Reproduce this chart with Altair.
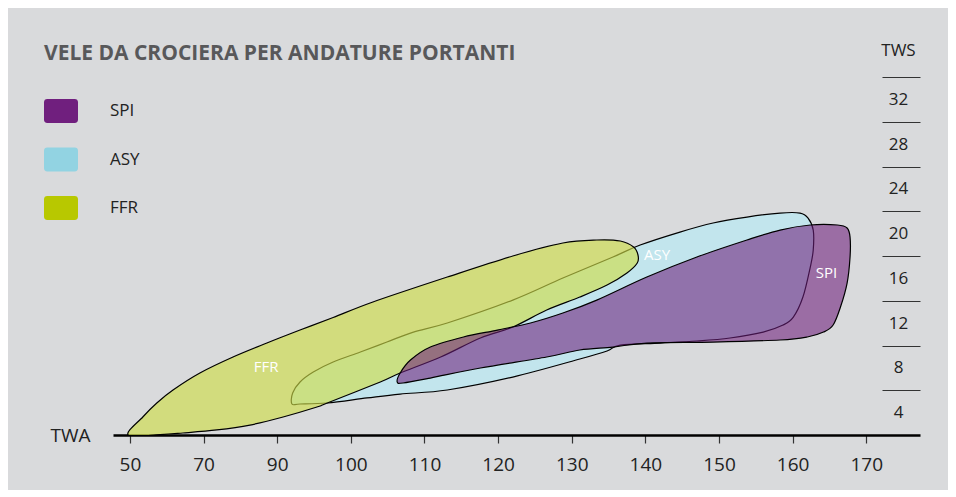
import altair as alt
import pandas as pd

# ---------------- data ----------------
title_text = "VELE DA CROCIERA PER ANDATURE PORTANTI"
sails = ["SPI", "ASY", "FFR"]
swatch_colors = ["#701f7e", "#92d3e2", "#b8c800"]

x_ticks = [50, 70, 90, 100, 110, 120, 130, 140, 150, 160, 170]
tws_lines = [4, 8, 12, 16, 20, 24, 28, 32]
tws_labels = [4, 8, 12, 16, 20, 24, 28, 32]

# outlines (TWA degrees, TWS knots)
asy_twa = [92.0, 92.1, 93.1, 94.9, 97.6, 101.3, 104.9, 108.5, 113.1, 122.0, 128.8, 135.6,
           139.3, 144.7, 149.2, 153.8, 158.3, 161.0, 162.1, 162.8, 162.8, 162.4, 161.4,
           160.1, 158.7, 156.0, 151.5, 147.0, 142.0, 136.6, 134.8, 131.1, 122.0, 113.1,
           106.7, 102.2, 96.8, 93.1]
asy_tws = [2.77, 3.75, 4.74, 5.63, 6.52, 7.42, 8.31, 9.20, 10.01, 12.06, 14.03, 15.91,
           16.98, 18.14, 18.95, 19.48, 19.84, 19.84, 19.39, 18.32, 16.53, 15.01, 12.33,
           10.54, 9.83, 9.20, 8.67, 8.40, 8.22, 8.04, 7.51, 6.79, 5.18, 4.02,
           3.66, 3.31, 2.86, 2.77]

ffr_twa = [49.5, 53.5, 57.3, 61.7, 69.0, 78.0, 87.2, 93.1, 97.6, 103.0, 113.1, 122.0,
           128.8, 133.4, 136.6, 138.4, 139.0, 138.9, 137.5, 134.8, 131.1, 126.6, 122.0,
           117.6, 112.2, 106.7, 104.0, 96.8, 95.4, 90.8, 82.6, 73.6, 64.4, 58.2]
ffr_tws = [0.0, 1.61, 2.86, 4.02, 5.54, 6.97, 8.22, 9.38, 10.5, 11.89, 14.12, 16.0,
           17.16, 17.43, 17.34, 16.80, 16.09, 15.37, 14.48, 13.40, 12.33, 11.17, 9.65,
           8.67, 6.97, 5.54, 4.74, 2.86, 2.50, 1.61, 0.89, 0.45, 0.18, 0.04]

spi_twa = [106.3, 106.7, 108.1, 110.8, 115.3, 119.9, 124.4, 128.8, 133.4, 140.2, 147.0,
           153.8, 158.3, 162.4, 166.1, 167.4, 167.8, 167.8, 167.4, 166.5, 165.5, 164.2,
           162.0, 158.3, 149.2, 140.2, 135.6, 131.1, 126.6, 117.6, 110.8, 107.1]
spi_tws = [4.74, 5.54, 6.70, 7.86, 8.76, 9.38, 10.01, 10.90, 12.06, 14.12, 15.91,
           17.43, 18.32, 18.77, 18.77, 18.50, 17.69, 15.91, 13.58, 11.44, 9.83, 9.20,
           8.76, 8.49, 8.31, 8.22, 7.86, 7.60, 6.97, 5.99, 5.09, 4.65]

label_names = ["FFR", "ASY", "SPI"]
label_twa = [87.0, 141.6, 164.6]
label_tws = [6.1, 16.1, 14.5]

# ---------------- tables ----------------
def shape_df(name, twa, tws):
    return pd.DataFrame({"sail": name, "i": list(range(len(twa))), "twa": twa, "tws": tws})

shapes = pd.concat([shape_df("ASY", asy_twa, asy_tws),
                    shape_df("FFR", ffr_twa, ffr_tws),
                    shape_df("SPI", spi_twa, spi_tws)], ignore_index=True)
labels_df = pd.DataFrame({"label": label_names, "twa": label_twa, "tws": label_tws})
legend_df = pd.DataFrame({"sail": sails})

POS = "datum.twa <= 90 ? (datum.twa - 50) / 20 : 2 + (datum.twa - 90) / 10"


def pos_of(t):
    return (t - 50) / 20 if t <= 90 else 2 + (t - 90) / 10


FONT = "Open Sans"

xscale = alt.Scale(domain=[-0.23, 10.73], nice=False, zero=False)
yscale = alt.Scale(domain=[0, 32], nice=False, zero=True)

xaxis = alt.Axis(
    values=[pos_of(t) for t in x_ticks],
    labelExpr="datum.value <= 2 ? 50 + 20 * datum.value : 90 + 10 * (datum.value - 2)",
    grid=False, domainColor="#000000", domainWidth=2.6,
    tickColor="#333333", tickSize=8, tickWidth=1.2,
    labelFont=FONT, labelFontSize=19, labelColor="#222222", labelPadding=12,
    title="TWA", titleFont=FONT, titleFontSize=19, titleFontWeight="normal",
    titleColor="#222222", titleX=-43, titleY=0, titleAlign="center",
    titleBaseline="middle", titleAngle=0,
)

x_enc = alt.X("pos:Q", scale=xscale, axis=xaxis)

tick_axis = alt.Axis(
    orient="right", offset=-38, values=tws_lines, labels=False, grid=False,
    domain=False, tickSize=38, tickColor="#333333", tickWidth=1.2,
    title="TWS", titleFont=FONT, titleFontSize=17, titleFontWeight="normal",
    titleColor="#222222", titleAngle=0, titleX=16, titleY=-27,
    titleAlign="center", titleBaseline="middle",
)
label_axis = alt.Axis(
    orient="right", offset=-38, values=[v - 2 for v in tws_labels],
    labelExpr="datum.value + 2", ticks=False, grid=False, domain=False,
    labelFont=FONT, labelFontSize=17, labelColor="#222222",
    labelAlign="center", labelBaseline="middle", labelPadding=16, title=None,
)

base = alt.Chart(shapes).transform_calculate(pos=POS)


def polygon(name, fill, fill_opacity, yaxis):
    return base.transform_filter(alt.datum.sail == name).mark_line(
        interpolate="cardinal-closed", fill=fill, fillOpacity=fill_opacity,
        stroke="#000000", strokeWidth=1.2, clip=True,
    ).encode(
        x=x_enc,
        y=alt.Y("tws:Q", scale=yscale, axis=yaxis),
        order="i:Q",
    )


asy_layer = polygon("ASY", "#c2e5ed", 1.0, tick_axis)
ffr_layer = polygon("FFR", "#cedd48", 0.64, label_axis)
spi_layer = polygon("SPI", "#6e1f7c", 0.58, None)

text_layer = alt.Chart(labels_df).transform_calculate(pos=POS).mark_text(
    font=FONT, fontSize=15, color="#ffffff", align="center", baseline="middle"
).encode(
    x=x_enc,
    y=alt.Y("tws:Q", scale=yscale, axis=None),
    text="label:N",
)

swatch_path = ("M-0.8,-0.7 L0.8,-0.7 Q1,-0.7 1,-0.5 L1,0.5 Q1,0.7 0.8,0.7 "
               "L-0.8,0.7 Q-1,0.7 -1,0.5 L-1,-0.5 Q-1,-0.7 -0.8,-0.7 Z")

legend_layer = alt.Chart(legend_df).mark_square(opacity=0).encode(
    color=alt.Color(
        "sail:N",
        scale=alt.Scale(domain=sails, range=swatch_colors),
        legend=alt.Legend(
            orient="none", legendX=-69, legendY=17, title=None, padding=0,
            direction="vertical", symbolType=swatch_path, symbolSize=1156,
            symbolStrokeWidth=0, symbolOpacity=1, labelFont=FONT,
            labelFontSize=17, labelColor="#222222", labelOffset=32,
            rowPadding=19.5,
        ),
    )
)

chart = alt.layer(
    asy_layer, ffr_layer, spi_layer, text_layer, legend_layer
).resolve_axis(y="independent").properties(
    width=807, height=358,
    title=alt.TitleParams(
        text=title_text, anchor="start", frame="group", orient="top",
        dx=-69, dy=37, offset=14, font="Open Sans",
        fontSize=21, fontWeight="bold", color="#58585a",
    ),
    background="#d9dadc",
    padding={"left": 105, "top": 69, "right": 28, "bottom": 55},
    autosize=alt.AutoSizeParams(type="none"),
).configure_view(stroke=None)

chart.save("out.html", embed_options={"renderer": "svg", "actions": False})
